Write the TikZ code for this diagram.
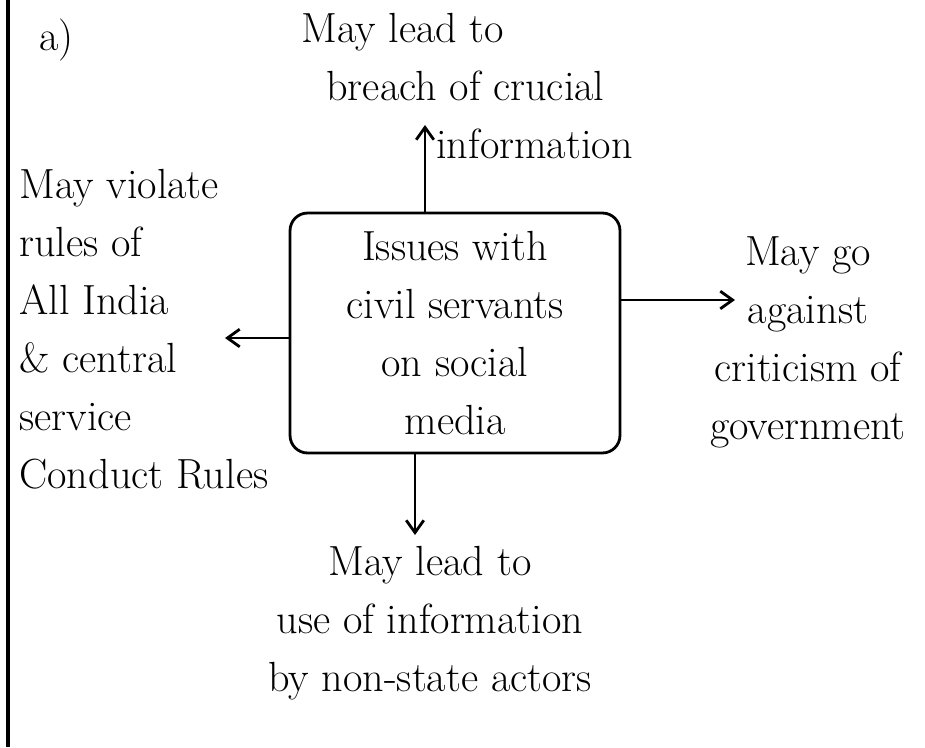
\documentclass[tikz,border=0pt]{standalone}
\usepackage{tikz}
\usetikzlibrary{positioning, arrows.meta}

\begin{document}
\begin{tikzpicture}
% Style
[
    x=0.02cm, y=-0.02cm, line width=1.6pt,
    every node/.style={font=\fontsize{24}{33}\selectfont, inner sep=0pt},
    issuebox/.style={
        draw, align=center, shape=rectangle, rounded corners=10pt,
        minimum width=6.6cm, minimum height=4.8cm
    },
    note/.style={align=left},
    arr/.style={-{Straight Barb[length=7pt, width=10pt]}}
]

%=================================== Start ===================================
{
    \useasboundingbox (0,0) rectangle (925,747);
    \draw[line width=2.6pt] (8,0) -- (8,747);

    \node[anchor=north west] (part) at (38,18) {a)};

    \node[issuebox] (box) at (455,333) {Issues with \\ civil servants \\ on social \\ media};

    \node[note, anchor=north west] (n-top) at (300,12) {May lead to \\ \hspace{0.5cm}breach of crucial \\ \hspace{2.7cm}information};
    \node[note, anchor=north west] (n-left) at (18,168) {May violate \\ rules of \\ All India \\ \& central \\ service \\ Conduct Rules};
    \node[align=center, anchor=north] (n-right) at (808,235) {May go \\ against \\ criticism of \\ government};
    \node[align=center, anchor=north] (n-bot) at (430,545) {May lead to \\ use of information \\ by non-state actors};

    \coordinate (e-top) at (425,125);
    \coordinate (e-left) at (225,338);
    \coordinate (e-right) at (735,300);
    \coordinate (e-bot) at (415,535);

    \draw[arr] (box.north -| e-top) -- (e-top);
    \draw[arr] (box.west |- e-left) -- (e-left);
    \draw[arr] (box.east |- e-right) -- (e-right);
    \draw[arr] (box.south -| e-bot) -- (e-bot);
}
%==================================== END ====================================

\end{tikzpicture}
\end{document}
